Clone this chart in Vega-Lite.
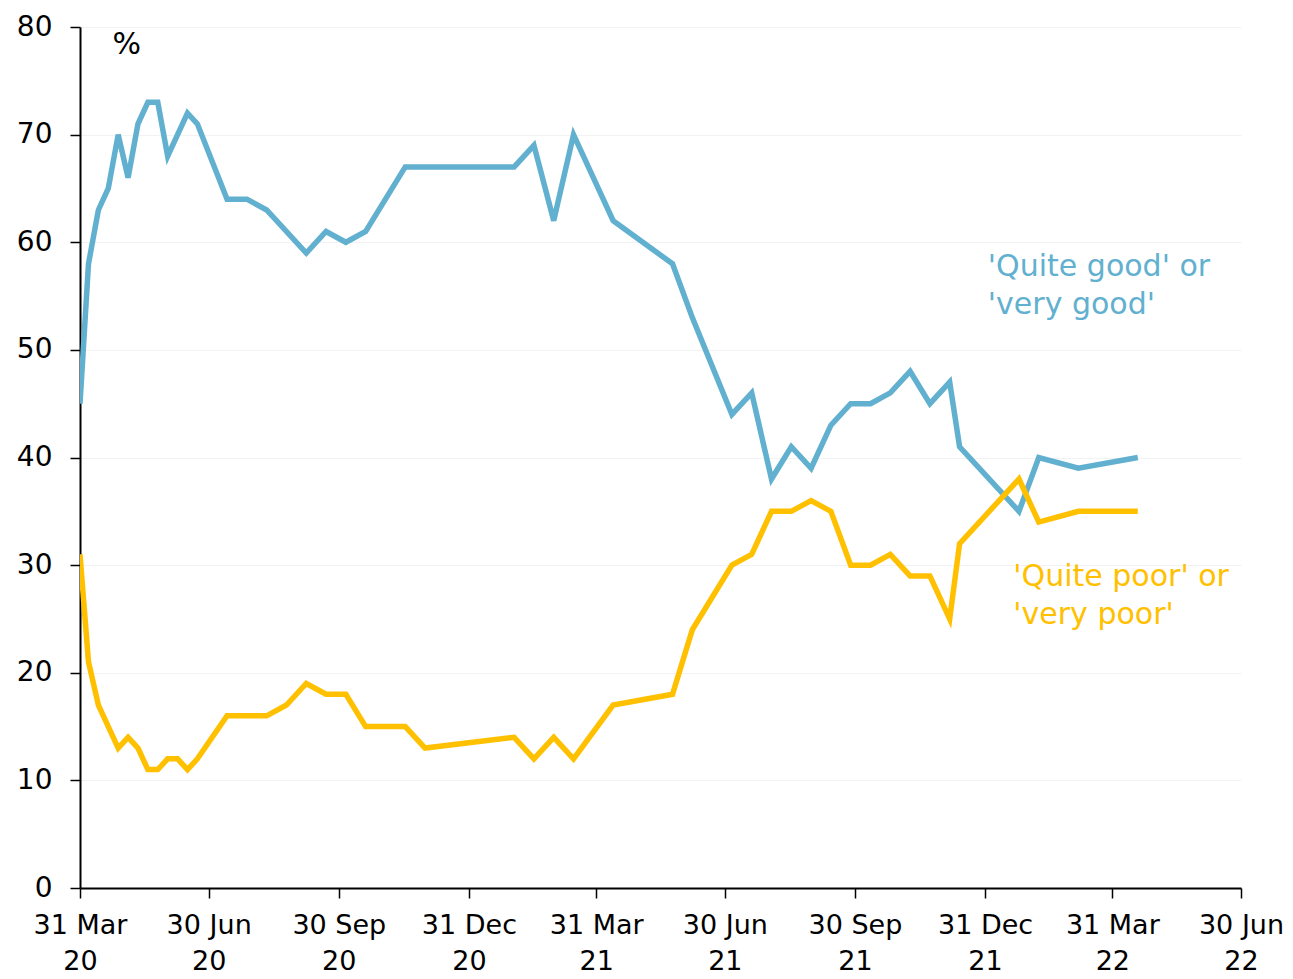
{
  "$schema": "https://vega.github.io/schema/vega-lite/v6.json",
  "autosize": "none",
  "width": 1161,
  "height": 861,
  "padding": {"left": 80, "top": 27, "right": 52, "bottom": 91},
  "background": "white",
  "config": {
    "view": {"stroke": null},
    "font": "DejaVu Sans"
  },
  "datasets": {
    "series": [
      {"date": "2020-03-31", "series": "good", "value": 45},
      {"date": "2020-04-06", "series": "good", "value": 58},
      {"date": "2020-04-13", "series": "good", "value": 63},
      {"date": "2020-04-20", "series": "good", "value": 65},
      {"date": "2020-04-27", "series": "good", "value": 70},
      {"date": "2020-05-04", "series": "good", "value": 66},
      {"date": "2020-05-11", "series": "good", "value": 71},
      {"date": "2020-05-18", "series": "good", "value": 73},
      {"date": "2020-05-25", "series": "good", "value": 73},
      {"date": "2020-06-01", "series": "good", "value": 68},
      {"date": "2020-06-15", "series": "good", "value": 72},
      {"date": "2020-06-22", "series": "good", "value": 71},
      {"date": "2020-07-13", "series": "good", "value": 64},
      {"date": "2020-07-27", "series": "good", "value": 64},
      {"date": "2020-08-10", "series": "good", "value": 63},
      {"date": "2020-09-07", "series": "good", "value": 59},
      {"date": "2020-09-21", "series": "good", "value": 61},
      {"date": "2020-10-05", "series": "good", "value": 60},
      {"date": "2020-10-19", "series": "good", "value": 61},
      {"date": "2020-11-16", "series": "good", "value": 67},
      {"date": "2021-02-01", "series": "good", "value": 67},
      {"date": "2021-02-15", "series": "good", "value": 69},
      {"date": "2021-03-01", "series": "good", "value": 62},
      {"date": "2021-03-15", "series": "good", "value": 70},
      {"date": "2021-04-12", "series": "good", "value": 62},
      {"date": "2021-05-24", "series": "good", "value": 58},
      {"date": "2021-06-07", "series": "good", "value": 53},
      {"date": "2021-07-05", "series": "good", "value": 44},
      {"date": "2021-07-19", "series": "good", "value": 46},
      {"date": "2021-08-02", "series": "good", "value": 38},
      {"date": "2021-08-16", "series": "good", "value": 41},
      {"date": "2021-08-30", "series": "good", "value": 39},
      {"date": "2021-09-13", "series": "good", "value": 43},
      {"date": "2021-09-27", "series": "good", "value": 45},
      {"date": "2021-10-11", "series": "good", "value": 45},
      {"date": "2021-10-25", "series": "good", "value": 46},
      {"date": "2021-11-08", "series": "good", "value": 48},
      {"date": "2021-11-22", "series": "good", "value": 45},
      {"date": "2021-12-06", "series": "good", "value": 47},
      {"date": "2021-12-13", "series": "good", "value": 41},
      {"date": "2022-01-24", "series": "good", "value": 35},
      {"date": "2022-02-07", "series": "good", "value": 40},
      {"date": "2022-03-07", "series": "good", "value": 39},
      {"date": "2022-04-18", "series": "good", "value": 40},

      {"date": "2020-03-31", "series": "poor", "value": 31},
      {"date": "2020-04-06", "series": "poor", "value": 21},
      {"date": "2020-04-13", "series": "poor", "value": 17},
      {"date": "2020-04-27", "series": "poor", "value": 13},
      {"date": "2020-05-04", "series": "poor", "value": 14},
      {"date": "2020-05-11", "series": "poor", "value": 13},
      {"date": "2020-05-18", "series": "poor", "value": 11},
      {"date": "2020-05-25", "series": "poor", "value": 11},
      {"date": "2020-06-01", "series": "poor", "value": 12},
      {"date": "2020-06-08", "series": "poor", "value": 12},
      {"date": "2020-06-15", "series": "poor", "value": 11},
      {"date": "2020-06-22", "series": "poor", "value": 12},
      {"date": "2020-07-13", "series": "poor", "value": 16},
      {"date": "2020-08-10", "series": "poor", "value": 16},
      {"date": "2020-08-24", "series": "poor", "value": 17},
      {"date": "2020-09-07", "series": "poor", "value": 19},
      {"date": "2020-09-21", "series": "poor", "value": 18},
      {"date": "2020-10-05", "series": "poor", "value": 18},
      {"date": "2020-10-19", "series": "poor", "value": 15},
      {"date": "2020-11-16", "series": "poor", "value": 15},
      {"date": "2020-11-30", "series": "poor", "value": 13},
      {"date": "2021-02-01", "series": "poor", "value": 14},
      {"date": "2021-02-15", "series": "poor", "value": 12},
      {"date": "2021-03-01", "series": "poor", "value": 14},
      {"date": "2021-03-15", "series": "poor", "value": 12},
      {"date": "2021-04-12", "series": "poor", "value": 17},
      {"date": "2021-05-24", "series": "poor", "value": 18},
      {"date": "2021-06-07", "series": "poor", "value": 24},
      {"date": "2021-07-05", "series": "poor", "value": 30},
      {"date": "2021-07-19", "series": "poor", "value": 31},
      {"date": "2021-08-02", "series": "poor", "value": 35},
      {"date": "2021-08-16", "series": "poor", "value": 35},
      {"date": "2021-08-30", "series": "poor", "value": 36},
      {"date": "2021-09-13", "series": "poor", "value": 35},
      {"date": "2021-09-27", "series": "poor", "value": 30},
      {"date": "2021-10-11", "series": "poor", "value": 30},
      {"date": "2021-10-25", "series": "poor", "value": 31},
      {"date": "2021-11-08", "series": "poor", "value": 29},
      {"date": "2021-11-22", "series": "poor", "value": 29},
      {"date": "2021-12-06", "series": "poor", "value": 25},
      {"date": "2021-12-13", "series": "poor", "value": 32},
      {"date": "2022-01-24", "series": "poor", "value": 38},
      {"date": "2022-02-07", "series": "poor", "value": 34},
      {"date": "2022-03-07", "series": "poor", "value": 35},
      {"date": "2022-04-18", "series": "poor", "value": 35}
    ],
    "labels": [
      {"date": "2022-01-02", "value": 59.1, "series": "good", "text": ["'Quite good' or", "'very good'"]},
      {"date": "2022-01-20", "value": 30.3, "series": "poor", "text": ["'Quite poor' or", "'very poor'"]},
      {"date": "2020-04-23", "value": 79.7, "series": "unit", "text": ["%"]}
    ]
  },
  "layer": [
    {
      "data": {"name": "series"},
      "mark": {"type": "line", "strokeWidth": 5.5, "strokeJoin": "miter", "clip": true},
      "encoding": {
        "x": {
          "field": "date",
          "type": "temporal",
          "scale": {
            "type": "utc",
            "domain": [
              {"year": 2020, "month": 3, "date": 31, "utc": true},
              {"year": 2022, "month": 6, "date": 30, "utc": true}
            ]
          },
          "axis": {
            "title": null,
            "values": [
              {"year": 2020, "month": 3, "date": 31, "utc": true},
              {"year": 2020, "month": 6, "date": 30, "utc": true},
              {"year": 2020, "month": 9, "date": 30, "utc": true},
              {"year": 2020, "month": 12, "date": 31, "utc": true},
              {"year": 2021, "month": 3, "date": 31, "utc": true},
              {"year": 2021, "month": 6, "date": 30, "utc": true},
              {"year": 2021, "month": 9, "date": 30, "utc": true},
              {"year": 2021, "month": 12, "date": 31, "utc": true},
              {"year": 2022, "month": 3, "date": 31, "utc": true},
              {"year": 2022, "month": 6, "date": 30, "utc": true}
            ],
            "labelExpr": "[utcFormat(datum.value, '%d %b'), utcFormat(datum.value, '%y')]",
            "labelFont": "DejaVu Sans",
            "labelFontSize": 27,
            "labelColor": "#000000",
            "labelLineHeight": 36,
            "labelPadding": 14,
            "labelFlush": false,
            "labelOverlap": false,
            "domainColor": "#000000",
            "domainWidth": 2,
            "tickColor": "#000000",
            "tickWidth": 1.5,
            "tickSize": 10,
            "grid": false
          }
        },
        "y": {
          "field": "value",
          "type": "quantitative",
          "scale": {"domain": [0, 80], "nice": false},
          "axis": {
            "title": null,
            "values": [0, 10, 20, 30, 40, 50, 60, 70, 80],
            "labelFont": "DejaVu Sans",
            "labelFontSize": 28,
            "labelColor": "#000000",
            "labelPadding": 18,
            "domainColor": "#000000",
            "domainWidth": 2,
            "tickColor": "#000000",
            "tickWidth": 1.5,
            "tickSize": 10,
            "grid": true,
            "gridColor": "#f2f2f2",
            "gridWidth": 1
          }
        },
        "color": {
          "field": "series",
          "type": "nominal",
          "scale": {"domain": ["good", "poor", "unit"], "range": ["#62b0cf", "#ffc000", "#000000"]},
          "legend": null
        }
      }
    },
    {
      "data": {"name": "labels"},
      "mark": {"type": "text", "align": "left", "baseline": "top", "fontSize": 30, "lineHeight": 38, "font": "DejaVu Sans"},
      "encoding": {
        "x": {"field": "date", "type": "temporal"},
        "y": {"field": "value", "type": "quantitative"},
        "text": {"field": "text"},
        "color": {"field": "series", "type": "nominal", "legend": null}
      }
    }
  ]
}
